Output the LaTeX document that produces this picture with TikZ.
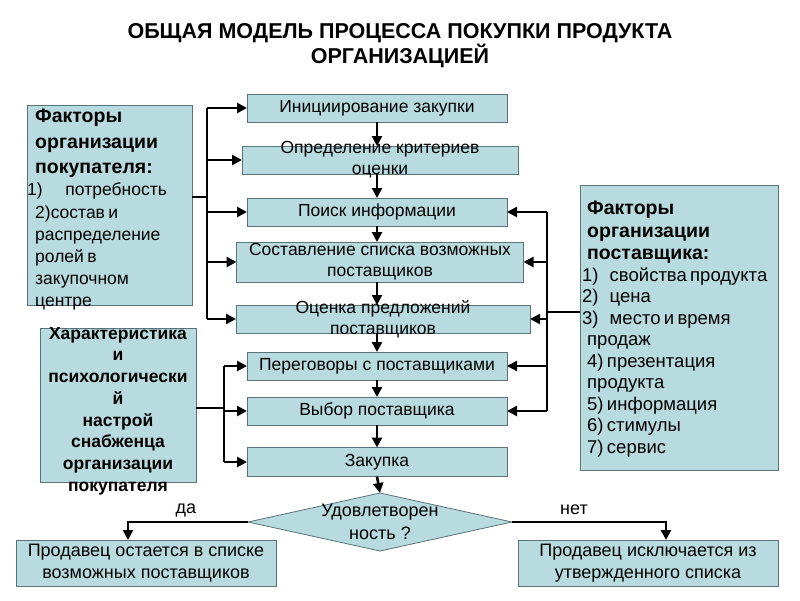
\documentclass[tikz,border=0pt]{standalone}
\usepackage{fontspec}
\setmainfont{Liberation Sans}
\usetikzlibrary{shapes.geometric,arrows.meta,positioning}
\begin{document}
\begin{tikzpicture}[x=1pt,y=-1pt,
  box/.style={draw=cbd,fill=cfb,line width=0.8pt,inner sep=0pt,outer sep=0pt},
  stage/.style={box,minimum height=28pt,font=\fontsize{17.5}{21}\selectfont,align=center},
  inlabel/.style={font=\fontsize{17.5}{21}\selectfont,align=center,inner sep=0pt},
  exit/.style={box,minimum width=260pt,minimum height=46pt,font=\fontsize{18}{22}\selectfont,align=center},
  lin/.style={line width=2.6pt,draw=black},
  arr/.style={lin,-{Triangle[length=10pt,width=10pt]}}]
%
\useasboundingbox (0,0) rectangle (800,600);
%
\definecolor{cfb}{rgb}{0.72,0.86,0.88}
\definecolor{cbd}{rgb}{0.35,0.45,0.47}
%
\node[font=\bfseries\fontsize{21.5}{25}\selectfont,align=center] (title) at (400,46)
  {ОБЩАЯ МОДЕЛЬ ПРОЦЕССА ПОКУПКИ ПРОДУКТА\\ОРГАНИЗАЦИЕЙ};
%
\node[stage,minimum width=260pt] (init) at (377,108) {Инициирование закупки};
\node[stage,minimum width=276pt,label={[inlabel]center:Определение критериев\\оценки}] (crit) at (380,160) {};
\node[stage,minimum width=260pt] (search) at (377,212) {Поиск информации};
\node[stage,minimum width=287pt,minimum height=40pt] (list) at (380,262) {Составление списка возможных\\поставщиков};
\node[stage,minimum width=294pt,label={[inlabel]center:Оценка предложений\\поставщиков}] (eval) at (383,319) {};
\node[stage,minimum width=260pt] (negot) at (377,366) {Переговоры с поставщиками};
\node[stage,minimum width=260pt] (choice) at (377,411) {Выбор поставщика};
\node[stage,minimum width=260pt,minimum height=29pt] (buy) at (377,462) {Закупка};
%
\node[box,diamond,minimum width=264pt,minimum height=58pt] (dia) at (380,522) {};
\node[font=\fontsize{18}{23}\selectfont,align=center,inner sep=0pt] (diatxt) at (dia.center) {Удовлетворен\\ность ?};
\node[exit] (yes) at (146,563) {Продавец остается в списке\\возможных поставщиков};
\node[exit] (no) at (648,563) {Продавец исключается из\\утвержденного списка};
\node[font=\fontsize{18}{20}\selectfont] (yeslbl) at (186,510) {да};
\node[font=\fontsize{18}{20}\selectfont] (nolbl) at (574,510) {нет};
%
\node[box,minimum width=165pt,minimum height=200pt] (buyer) at (109.5,205) {};
\node[anchor=north west,text width=160pt,inner sep=0pt,align=left] (buyertxt) at (35,109)
  {\bfseries\fontsize{19.5}{25.5}\selectfont Факторы\\организации\\покупателя:\par
   \mdseries\fontsize{17.5}{22.2}\selectfont \hspace*{-8pt}1)\hspace{1.3em}потребность\\2)состав и\\распределение\\ролей в\\закупочном\\центре\par};
\node[box,minimum width=198pt,minimum height=285pt] (supplier) at (679,327.5) {};
\node[anchor=north west,text width=195pt,inner sep=0pt,align=left] (suppliertxt) at (587,201)
  {\bfseries\fontsize{19.5}{22.5}\selectfont Факторы\\организации\\поставщика:\par
   \mdseries\fontsize{18.5}{21.5}\selectfont \hspace*{-5pt}1)\hspace{0.6em}свойства продукта\\\hspace*{-5pt}2)\hspace{0.6em}цена\\\hspace*{-5pt}3)\hspace{0.6em}место и время\\продаж\\4) презентация\\продукта\\5) информация\\6) стимулы\\7) сервис\par};
\node[box,minimum width=156pt,minimum height=154pt] (harbox) at (118,405) {};
\node[font=\bfseries\fontsize{17.5}{21.7}\selectfont,align=center,inner sep=0pt] (hartxt) at (118,411)
  {Характеристика\\и\\психологически\\й\\настрой\\снабженца\\организации\\покупателя};
%
\draw[arr] (init.south) -- (init.south |- crit.north);
\draw[arr] (crit.south -| init.south) -- (init.south |- search.north);
\draw[arr] (search.south) -- (search.south |- list.north);
\draw[arr] (list.south -| search.south) -- (search.south |- eval.north);
\draw[arr] (eval.south -| search.south) -- (search.south |- negot.north);
\draw[arr] (negot.south) -- (choice.north);
\draw[arr] (choice.south) -- (buy.north);
\draw[arr] (buy.south) -- (dia.north);
%
\coordinate (lb) at (207,197);
\draw[lin] (buyer.east |- lb) -- (lb);
\draw[lin] (lb |- init.west) -- (lb |- eval.west);
\foreach \s in {init,crit,search,list,eval}
  \draw[arr] (lb |- \s.west) -- (\s.west);
%
\coordinate (cb) at (224,408);
\draw[lin] (harbox.east |- cb) -- (cb);
\draw[lin] (cb |- negot.west) -- (cb |- buy.west);
\foreach \s in {negot,choice,buy}
  \draw[arr] (cb |- \s.west) -- (\s.west);
%
\coordinate (rb) at (547,312);
\draw[lin] (supplier.west |- rb) -- (rb);
\draw[lin] (rb |- search.east) -- (rb |- choice.east);
\foreach \s in {search,list,eval,negot,choice}
  \draw[arr] (rb |- \s.east) -- (\s.east);
%
\coordinate (yesin) at (128,540);
\coordinate (noin) at (666,540);
\draw[arr] (dia.west) -| (yesin);
\draw[arr] (dia.east) -| (noin);
%
\end{tikzpicture}
\end{document}
